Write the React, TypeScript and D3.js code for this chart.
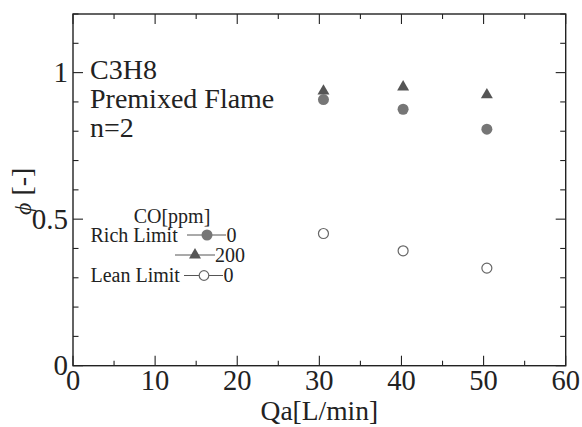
import * as d3 from 'd3';

// Qa [L/min] where each limit was measured
const qa = [30.5, 40.2, 50.4];
// equivalence ratio phi
const richCO0 = [0.908, 0.875, 0.807];
const richCO200 = [0.937, 0.951, 0.924];
const leanCO0 = [0.451, 0.392, 0.333];

const xTickLabels = [0, 10, 20, 30, 40, 50, 60];
const yTickLabels = [0, 0.5, 1];
const notes = ['C3H8', 'Premixed Flame', 'n=2'];

const W = 582;
const H = 427;
const m = { left: 73, right: 16.3, top: 14, bottom: 61.3 };
const FONT = '"Liberation Serif", "Times New Roman", serif';

export default function App() {
    const x = d3.scaleLinear().domain([0, 60]).range([m.left, W - m.right]);
    const y = d3.scaleLinear().domain([0, 1.2]).range([H - m.bottom, m.top]);
    const [x0, x1] = x.range();
    const [y0, y1] = y.range();

    const xTicks = d3.range(0, 61, 5);
    const yTicks = d3.range(0, 13).map(i => i / 10);
    const tri = d3.symbol(d3.symbolTriangle, 62)();

    const richPts = qa.map((q, i) => ({ q, v: richCO0[i] }));
    const r200Pts = qa.map((q, i) => ({ q, v: richCO200[i] }));
    const leanPts = qa.map((q, i) => ({ q, v: leanCO0[i] }));

    return (
        <svg width={W} height={H} style={{ position: 'absolute', left: 0, top: 0, background: '#fff' }}
            fontFamily={FONT}>
            {/* ticks on all four sides, pointing inward */}
            {xTicks.map(t => {
                const len = t % 10 === 0 ? 10 : 5;
                return (
                    <g key={'xt' + t} stroke="#222" strokeWidth={1.1}>
                        <line x1={x(t)} x2={x(t)} y1={y0} y2={y0 - len} />
                        <line x1={x(t)} x2={x(t)} y1={y1} y2={y1 + len} />
                    </g>
                );
            })}
            {yTicks.map(t => {
                const len = Math.round(t * 10) % 5 === 0 ? 10 : 5.5;
                return (
                    <g key={'yt' + t} stroke="#222" strokeWidth={1.1}>
                        <line x1={x0} x2={x0 + len} y1={y(t)} y2={y(t)} />
                        <line x1={x1} x2={x1 - len} y1={y(t)} y2={y(t)} />
                    </g>
                );
            })}
            <rect x={x0} y={y1} width={x1 - x0} height={y0 - y1} fill="none" stroke="#222" strokeWidth={1.4} />

            {xTickLabels.map(t => (
                <text key={'xl' + t} x={x(t)} y={y0 + 24.5} textAnchor="middle" fontSize={28.5} fill="#222">{t}</text>
            ))}
            {yTickLabels.map(t => (
                <text key={'yl' + t} x={x0 - 5} y={y(t) + 9.5} textAnchor="end" fontSize={29} fill="#222">{t}</text>
            ))}

            <text x={(x0 + x1) / 2} y={419.5} textAnchor="middle" fontSize={27.5} fill="#222">Qa[L/min]</text>
            <text transform="translate(31,215) rotate(-90)" fontSize={28} fill="#222">
                <tspan fontStyle="italic" fontSize={24}>ϕ</tspan> [-]
            </text>

            {notes.map((s, i) => (
                <text key={s} x={90} y={79 + i * 29} fontSize={28} fill="#222">{s}</text>
            ))}

            {/* legend */}
            <g fontSize={20} fill="#222">
                <text x={172} y={223} textAnchor="middle">CO[ppm]</text>
                <text x={90.5} y={241.5}>Rich Limit</text>
                <line x1={187} x2={226} y1={235} y2={235} stroke="#555" strokeWidth={1} />
                <circle cx={207} cy={235} r={5.5} fill="#767676" />
                <text x={226.5} y={241.5}>0</text>
                <line x1={175} x2={215} y1={255} y2={255} stroke="#555" strokeWidth={1} />
                <path d={tri} transform="translate(195,255)" fill="#555" />
                <text x={215} y={261.5}>200</text>
                <text x={90.5} y={281.5}>Lean Limit</text>
                <line x1={184} x2={223} y1={275.5} y2={275.5} stroke="#555" strokeWidth={1} />
                <circle cx={204} cy={275.5} r={4.8} fill="#fff" stroke="#666" strokeWidth={1.2} />
                <text x={223.5} y={281.5}>0</text>
            </g>

            {/* data */}
            {r200Pts.map(d => (
                <path key={'t' + d.q} d={tri} transform={`translate(${x(d.q)},${y(d.v)})`} fill="#555" />
            ))}
            {richPts.map(d => (
                <circle key={'r' + d.q} cx={x(d.q)} cy={y(d.v)} r={5.5} fill="#767676" />
            ))}
            {leanPts.map(d => (
                <circle key={'l' + d.q} cx={x(d.q)} cy={y(d.v)} r={5} fill="#fff" stroke="#666" strokeWidth={1.2} />
            ))}
        </svg>
    );
}
